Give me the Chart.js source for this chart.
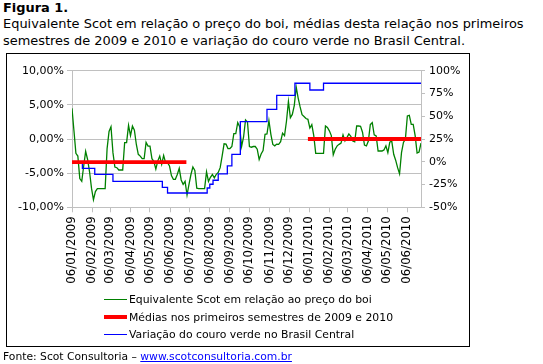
<!DOCTYPE html>
<html>
<head>
<meta charset="utf-8">
<script src="https://cdn.jsdelivr.net/npm/chart.js@4.4.0/dist/chart.umd.min.js"></script>
<style>
  body { margin: 0; width: 543px; height: 364px; background: #fff; color: #000;
         font-family: "DejaVu Sans", Verdana, sans-serif; position: relative; overflow: hidden; }
  #cabecalho { position: absolute; left: 3px; top: 0px; font-size: 12.95px; line-height: 16.3px; white-space: nowrap; }
  #quadro { position: absolute; left: 6px; top: 53px; width: 462px; height: 292px; border: 1px solid #000; }
  #grafico { position: absolute; left: 0; top: 0; }
  #legenda { position: absolute; left: 97px; top: 237px; font-size: 10.85px; }
  .item { height: 17.6px; display: flex; align-items: center; }
  .amostra { width: 23px; margin-right: 2px; }
  #fonte { position: absolute; left: 3px; top: 350px; font-size: 10.75px; }
  #fonte a { color: #0000ff; }
</style>
</head>
<body>
<div id="cabecalho">
  <b>Figura 1.</b><br>
  Equivalente Scot em relação o preço do boi, médias desta relação nos primeiros<br>
  semestres de 2009 e 2010 e variação do couro verde no Brasil Central.
</div>
<div id="quadro">
  <canvas id="grafico" width="462" height="240"></canvas>
  <div id="legenda"></div>
</div>
<div id="fonte">Fonte: Scot Consultoria – <a href="#">www.scotconsultoria.com.br</a></div>

<script>
// eixo x: datas dos rótulos
const rotulosX = ['06/01/2009', '06/02/2009', '06/03/2009', '06/04/2009', '06/05/2009', '06/06/2009',
  '06/07/2009', '06/08/2009', '06/09/2009', '06/10/2009', '06/11/2009', '06/12/2009',
  '06/01/2010', '06/02/2010', '06/03/2010', '06/04/2010', '06/05/2010', '06/06/2010'];
const rotulosEsq = ['-10,00%', '-5,00%', '0,00%', '5,00%', '10,00%'];
const rotulosDir = ['-50%', '-25%', '0%', '25%', '50%', '75%', '100%'];

// Equivalente Scot (% , eixo esquerdo), um valor a cada 3 dias desde 06/01/2009
const inicio = '06/01/2009';
const passoDias = 3;
const equivalente = [
  4.5, 1.2, -2.1, -2.5, -5.8, -6.2, -3.95, -1.8, -3.0, -4.8,
  -7.2, -8.9, -7.7, -7.27, -7.27, -7.27, -7.27, -7.27, -1.4, 1.1,
  1.8, -2.0, -4.1, -4.2, -4.54, -4.54, -4.54, -0.54, -0.54, 2.0,
  0.5, 1.9, 1.3, -0.8, -2.24, -2.5, -2.88, -2.88, -0.5, -1.05,
  -1.05, -2.88, -3.3, -4.4, -3.2, -2.5, -3.7, -2.4, -3.46, -3.46,
  -3.95, -5.35, -5.9, -5.9, -5.2, -4.3, -6.0, -6.64, -6.2, -8.2,
  -6.64, -5.2, -4.1, -4.6, -7.2, -7.27, -7.27, -7.27, -7.27, -4.8,
  -6.2, -5.6, -5.2, -5.7, -5.17, -4.9, -4.2, -2.5, -0.7, -0.75,
  -1.4, -1.4, -1.1, 0.8, 0.8, 2.4, 1.8, -1.1, 0.3, 2.8,
  2.5, -1.1, -1.2, -1.1, -1.1, -1.5, -3.0, -2.2, -1.7, 0.68,
  0.73, 2.7, 0.68, -0.8, -1.0, -0.75, -0.78, -0.4, 0.85, 0.5,
  2.6, 5.5, 3.12, 3.6, 4.9, 7.6, 6.0, 4.7, 3.55, 3.3,
  3.0, 2.88, 1.6, 2.1, 0.5, -2.1, -2.1, -2.1, -2.1, -2.1,
  1.9, 1.7, 1.2, 0.5, -2.3, -1.5, -1.0, -0.78, -0.6, 0.6,
  -0.29, 0.2, 0.75, 0.4, -0.29, -0.4, 1.9, 1.9, 1.85, 1.0,
  -0.9, -1.02, -0.3, 2.1, 2.39, 0.6, 0.45, -1.76, -1.76, -1.76,
  -1.6, -1.0, -2.0, -0.45, -0.3, -2.24, -3.1, -4.2, -5.1, -2.0,
  -0.5, 0.0, 3.37, 3.45, 2.15, 2.15, 0.5, -2.05, -1.9, -0.6
];

// médias dos primeiros semestres (% , eixo esquerdo)
const mediaDatas = ['06/01/2009', '01/07/2009', '02/07/2009', '04/01/2010', '27/06/2010'];
const mediaValores = [-3.4, -3.4, null, 0.0, 0.0];

// variação do couro verde (% , eixo direito), degraus
const couroDatas = ['06/01/2009', '22/01/2009', '10/02/2009', '10/03/2009', '25/05/2009', '02/06/2009',
  '02/08/2009', '06/08/2009', '11/08/2009', '19/08/2009', '02/09/2009', '09/09/2009', '22/09/2009',
  '02/11/2009', '17/11/2009', '15/12/2009', '07/01/2010', '28/01/2010', '27/06/2010'];
const couroValores = [0, -7.2, -13.8, -21.5, -28.1, -34.3,
  -28.8, -24.7, -20.3, -13.4, -4.6, 8.2, 44,
  57.6, 73, 86.2, 78.8, 86.2, 86.2];

function dias(d) {
  const [dd, mm, aa] = d.split('/').map(Number);
  const [d0, m0, a0] = inicio.split('/').map(Number);
  return (Date.UTC(aa, mm - 1, dd) - Date.UTC(a0, m0 - 1, d0)) / 86400000;
}

const familia = '"DejaVu Sans", Verdana, sans-serif';
const cinza = '#c0c0c0';
const diaFinal = (equivalente.length - 1) * passoDias;

const grafico = new Chart(document.getElementById('grafico'), {
  type: 'line',
  data: {
    datasets: [
      {
        label: 'Equivalente Scot em relação ao preço do boi',
        data: equivalente.map((v, i) => ({ x: i * passoDias, y: v })),
        borderColor: '#008000',
        borderWidth: 1.3,
        yAxisID: 'y',
        order: 2
      },
      {
        label: 'Médias nos primeiros semestres de 2009 e 2010',
        data: mediaDatas.map((d, i) => ({ x: dias(d), y: mediaValores[i] })),
        borderColor: '#ff0000',
        borderWidth: 3.8,
        spanGaps: false,
        yAxisID: 'y',
        order: 0
      },
      {
        label: 'Variação do couro verde no Brasil Central',
        data: couroDatas.map((d, i) => ({ x: dias(d), y: couroValores[i] })),
        borderColor: '#0000ff',
        borderWidth: 1.3,
        stepped: true,
        yAxisID: 'y1',
        order: 1
      }
    ]
  },
  options: {
    responsive: false,
    animation: false,
    layout: { padding: { top: 16.7, left: 0, right: 0, bottom: 0 } },
    elements: { point: { radius: 0 }, line: { tension: 0 } },
    plugins: { legend: { display: false }, tooltip: { enabled: false } },
    scales: {
      x: {
        type: 'linear',
        min: 0,
        max: diaFinal,
        afterBuildTicks: s => { s.ticks = rotulosX.map(d => ({ value: dias(d) })); },
        afterFit: s => { s.height = 240 - 153.3; },
        ticks: {
          autoSkip: false, maxRotation: 90, minRotation: 90, padding: 4,
          color: '#000', font: { family: familia, size: 11.7 },
          callback: (v, i) => rotulosX[i]
        },
        grid: { drawOnChartArea: false, tickLength: 5, color: cinza },
        border: { color: cinza }
      },
      y: {
        position: 'left',
        min: -10, max: 10,
        afterBuildTicks: s => { s.ticks = [-10, -5, 0, 5, 10].map(v => ({ value: v })); },
        afterFit: s => { s.width = 65; },
        ticks: { color: '#000', font: { family: familia, size: 11 }, padding: 3, callback: (v, i) => rotulosEsq[i] },
        grid: { color: cinza, tickLength: 5 },
        border: { color: cinza }
      },
      y1: {
        position: 'right',
        min: -50, max: 100,
        afterBuildTicks: s => { s.ticks = [-50, -25, 0, 25, 50, 75, 100].map(v => ({ value: v })); },
        afterFit: s => { s.width = 462 - 414; },
        ticks: { color: '#000', font: { family: familia, size: 11 }, padding: 4, callback: (v, i) => rotulosDir[i] },
        grid: { drawOnChartArea: false, tickLength: 4, color: cinza },
        border: { color: cinza }
      }
    }
  }
});

// legenda em HTML, uma linha por série
const legenda = document.getElementById('legenda');
grafico.data.datasets.forEach(ds => {
  const item = document.createElement('div');
  item.className = 'item';
  const amostra = document.createElement('div');
  amostra.className = 'amostra';
  amostra.style.height = Math.max(1, Math.round(ds.borderWidth)) + 'px';
  amostra.style.background = ds.borderColor;
  const texto = document.createElement('span');
  texto.textContent = ds.label;
  item.appendChild(amostra);
  item.appendChild(texto);
  legenda.appendChild(item);
});
</script>
</body>
</html>
